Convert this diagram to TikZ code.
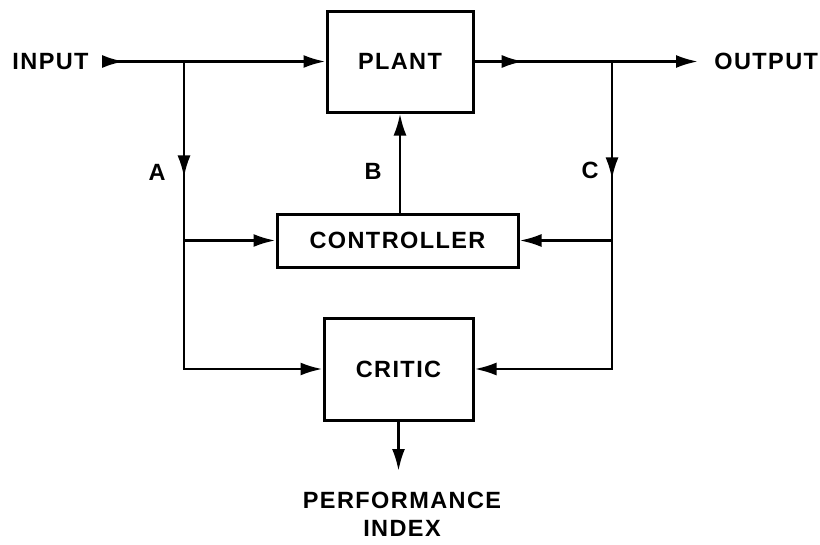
\documentclass[tikz,border=0pt]{standalone}
\usepackage{fontspec}
\setmainfont{Liberation Sans}
\usetikzlibrary{arrows.meta,calc,decorations.markings}

\tikzset{
  box/.style={draw=black, line width=3pt, rectangle, inner sep=0pt},
  lbl/.style={font=\fontsize{23.5}{28}\selectfont\bfseries\addfontfeatures{LetterSpace=6}},
  midarrow/.style={postaction={decorate}, decoration={markings, mark=at position #1 with {\arrow{>}}}}
}

\begin{document}
\begin{tikzpicture}[x=1pt, y=-1pt, line width=2.8pt, >={Latex[length=22pt,width=13pt]}]
\useasboundingbox (0,0) rectangle (820,544);

% blocks
\node[box, minimum width=146pt, minimum height=101pt] (plant) at (400,61.5) {};
\node[lbl] at (plant.center) {PLANT};
\node[box, minimum width=241pt, minimum height=53pt] (controller) at (397.5,240.5) {};
\node[lbl] at (controller.center) {CONTROLLER};
\node[box, minimum width=149pt, minimum height=102pt] (critic) at (398.5,369) {};
\node[lbl] at (critic.center) {CRITIC};

% terminals
\node[lbl, anchor=east, inner xsep=13pt] (input) at (103,61.5) {INPUT};
\node[lbl, anchor=west, inner xsep=15pt] (output) at (698,61.5) {OUTPUT};
\node[lbl, align=center, anchor=north, inner ysep=20pt] (perf) at (402,471) {PERFORMANCE\\INDEX};

\coordinate (ja) at (184,61.5);
\coordinate (jc) at (612,61.5);

% main line
\draw[->, midarrow=0.095] (input.east) -- (ja) -- (plant.west);
\draw[->, midarrow=0.22] (plant.east) -- (jc) -- (output.west);

% branches
\draw[->, midarrow=0.26] (ja) -- (ja |- critic.west) -- (critic.west);
\draw[->] (ja |- controller.west) -- (controller.west);
\draw[->, midarrow=0.265] (jc) -- (jc |- critic.east) -- (critic.east);
\draw[->] (jc |- controller.east) -- (controller.east);
\draw[->] (controller.north -| plant.south) -- (plant.south);
\draw[->] (critic.south) -- (critic.south |- perf.north);

% labels
\node[lbl] (la) at (157,172) {A};
\node[lbl] (lb) at (373,171) {B};
\node[lbl] (lc) at (590,170) {C};
\end{tikzpicture}
\end{document}
